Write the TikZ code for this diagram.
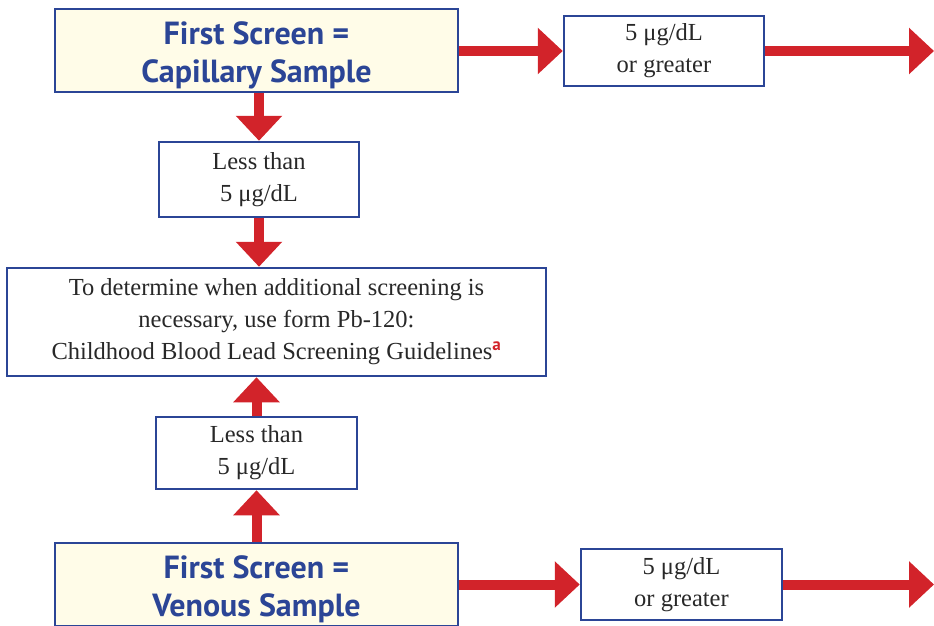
\documentclass[tikz,border=0pt]{standalone}
\usepackage{fontspec}
\setmainfont{Liberation Serif}
\newfontfamily\headfont{PT Sans}
\usetikzlibrary{arrows.meta}
\definecolor{boxblue}{RGB}{43,69,150}
\definecolor{arrowred}{RGB}{210,35,42}
\definecolor{paleyellow}{RGB}{255,252,232}
\definecolor{bodytext}{RGB}{40,40,40}

% heading text, set a little low in its box
\newcommand{\headlines}[2]{\raisebox{-5pt}[\height][\depth]{\begin{tabular}{@{}c@{}}#1\\#2\end{tabular}}}

\tikzset{
	box/.style={draw=boxblue, line width=2.5pt, inner sep=0pt, align=center, text=bodytext,
		font=\fontsize{24.5}{32}\selectfont},
	headbox/.style={box, fill=paleyellow, text=boxblue,
		font=\headfont\bfseries\fontsize{32}{38}\selectfont},
	flow/.style={draw=arrowred, line width=10pt, -{Triangle[length=25pt,width=45pt]}},
}

\begin{document}
\begin{tikzpicture}[x=1pt, y=-1pt]
	\useasboundingbox (0,0) rectangle (934,626);
	% Capillary branch
	\node[headbox, minimum width=403pt, minimum height=83pt] (cap) at (256.5,50.5) {\headlines{First Screen =}{Capillary Sample}};
	\node[box, minimum width=200pt, minimum height=70pt] (gr1) at (664,51) {5 μg/dL\\or greater};
	\node[box, minimum width=200pt, minimum height=75pt] (lt1) at (259,179.5) {Less than\\5 μg/dL};
	% Guidelines
	\node[box, minimum width=539pt, minimum height=108pt] (det) at (276.5,322) {To determine when additional screening is\\necessary, use form Pb-120:\\Childhood Blood Lead Screening Guidelines\textsuperscript{\textcolor{arrowred}{\headfont\bfseries a}}};
	% Venous branch
	\node[box, minimum width=201pt, minimum height=72pt] (lt2) at (256.5,453) {Less than\\5 μg/dL};
	\node[headbox, minimum width=403pt, minimum height=83pt] (ven) at (256.5,584.5) {\headlines{First Screen =}{Venous Sample}};
	\node[box, minimum width=201pt, minimum height=71pt] (gr2) at (681.5,584.5) {5 μg/dL\\or greater};
	\coordinate (outtop) at (934,51);
	\coordinate (outbot) at (934,584.5);
	% Arrows
	\draw[flow] (cap.east |- gr1.west) -- (gr1.west);
	\draw[flow] (gr1.east) -- (outtop);
	\draw[flow] (lt1.north |- cap.south) -- (lt1.north);
	\draw[flow] (lt1.south) -- (lt1.south |- det.north);
	\draw[flow] (lt2.north) -- (lt2.north |- det.south);
	\draw[flow] (lt2.south |- ven.north) -- (lt2.south);
	\draw[flow] (ven.east |- gr2.west) -- (gr2.west);
	\draw[flow] (gr2.east) -- (outbot);
\end{tikzpicture}
\end{document}
